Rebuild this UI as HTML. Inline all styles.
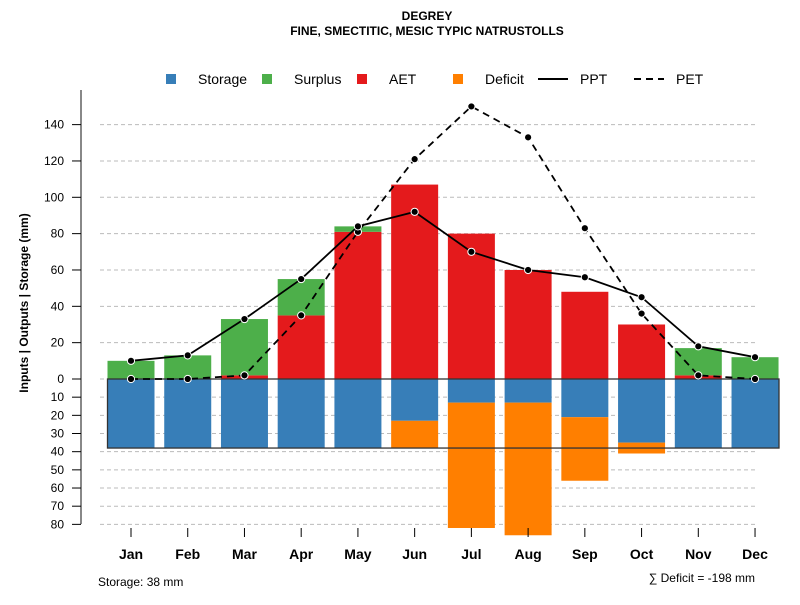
<!DOCTYPE html>
<html><head><meta charset="utf-8"><style>
body{margin:0;background:#fff;}
svg{font-family:"Liberation Sans",sans-serif;}
</style></head><body>
<svg id="c" width="800" height="600" xmlns="http://www.w3.org/2000/svg">
<text x="427" y="20" text-anchor="middle" font-size="12" font-weight="bold">DEGREY</text>
<text x="427" y="35" text-anchor="middle" font-size="12" font-weight="bold">FINE, SMECTITIC, MESIC TYPIC NATRUSTOLLS</text>
<g font-size="14">
<rect x="166" y="74" width="10" height="10" fill="#377eb8"/>
<text x="198" y="84">Storage</text>
<rect x="262" y="74" width="10" height="10" fill="#4daf4a"/>
<text x="294" y="84">Surplus</text>
<rect x="357" y="74" width="10" height="10" fill="#e41a1c"/>
<text x="389" y="84">AET</text>
<rect x="453" y="74" width="10" height="10" fill="#ff7f00"/>
<text x="485" y="84">Deficit</text>
<line x1="538" y1="79" x2="568" y2="79" stroke="#000" stroke-width="2"/>
<text x="580" y="84">PPT</text>
<line x1="634" y1="79" x2="664" y2="79" stroke="#000" stroke-width="2" stroke-dasharray="7,5"/>
<text x="676" y="84">PET</text>
</g>
<text transform="translate(28,303) rotate(-90)" text-anchor="middle" font-size="12" font-weight="bold">Inputs | Outputs | Storage    (mm)</text>
<text x="98" y="586" font-size="12">Storage: 38 mm</text>
<text x="755" y="582" text-anchor="end" font-size="12">∑ Deficit = -198 mm</text>
<g id="grid"></g><g id="bars"></g><g id="lines"></g><g id="axes"></g>
</svg>
<script>
const months=["Jan","Feb","Mar","Apr","May","Jun","Jul","Aug","Sep","Oct","Nov","Dec"];
const aet=[0,0,2,35,81,107,80,60,48,30,2,0];
const surplus=[10,13,31,20,3,0,0,0,0,0,15,12];
const storage=[38,38,38,38,38,23,13,13,21,35,38,38];
const deficit=[0,0,0,0,0,15,69,73,35,6,0,0];
const ppt=[10,13,33,55,84,92,70,60,56,45,18,12];
const pet=[0,0,2,35,81,121,150,133,83,36,2,0];
const upTicks=[0,20,40,60,80,100,120,140];
const downTicks=[10,20,30,40,50,60,70,80];
const storageCap=38;
const NS="http://www.w3.org/2000/svg";
const y0=379,k=1.817;
const yUp=v=>y0-v*k, yDn=v=>y0+v*k;
const xc=i=>131+i*56.73;
const bw=47;
function mk(tag,a,parent){const e=document.createElementNS(NS,tag);for(const key in a)e.setAttribute(key,a[key]);document.getElementById(parent).appendChild(e);return e;}
upTicks.forEach(t=>{const l=mk('line',{x1:100,x2:756,y1:yUp(t),y2:yUp(t),stroke:'#bbb','stroke-dasharray':'4,3'},'grid');

});
downTicks.forEach(t=>{const l=mk('line',{x1:100,x2:756,y1:yDn(t),y2:yDn(t),stroke:'#bbb','stroke-dasharray':'4,3'},'grid');

});
months.forEach((m,i)=>{
 const x=xc(i)-bw/2;
 let r=mk('rect',{x:x,y:yUp(aet[i]),width:bw,height:aet[i]*k,fill:'#e41a1c'},'bars');
 
 
 r=mk('rect',{x:x,y:yUp(aet[i]+surplus[i]),width:bw,height:surplus[i]*k,fill:'#4daf4a'},'bars');
 
 
 r=mk('rect',{x:x,y:y0,width:bw,height:storage[i]*k,fill:'#377eb8'},'bars');
 
 
 r=mk('rect',{x:x,y:yDn(storage[i]),width:bw,height:deficit[i]*k,fill:'#ff7f00'},'bars');
 
 
});
let fr=mk('rect',{x:xc(0)-bw/2,y:y0,width:779-(xc(0)-bw/2),height:storageCap*k,fill:'none',stroke:'#333','stroke-width':1.3},'bars');


function series(vals,dash,name){
 const p=mk('polyline',{points:vals.map((v,i)=>xc(i)+','+yUp(v)).join(' '),fill:'none',stroke:'#000','stroke-width':1.8,'stroke-dasharray':dash},'lines');
 
 
 vals.forEach((v,i)=>{const c=mk('circle',{cx:xc(i),cy:yUp(v),r:3.6,fill:'#000',stroke:'#fff','stroke-width':1},'lines');
 
 });
}
series(pet,'7,5','pet');
series(ppt,'none','ppt');
let ax=mk('line',{x1:81,x2:81,y1:90,y2:524,stroke:'#888','stroke-width':2},'axes');


function tick(y,label){
 const l=mk('line',{x1:72,x2:81,y1:y,y2:y,stroke:'#000'},'axes');
 
 
 const t=mk('text',{x:64,y:y+4,'text-anchor':'end','font-size':12},'axes');
 t.textContent=label;
 
 
}
upTicks.forEach(t=>tick(yUp(t),t));
downTicks.forEach(t=>tick(yDn(t),t));
months.forEach((m,i)=>{
 const l=mk('line',{x1:xc(i),x2:xc(i),y1:528,y2:537,stroke:'#000'},'axes');
 
 
 const t=mk('text',{x:xc(i),y:559,'text-anchor':'middle','font-size':14,'font-weight':'bold'},'axes');
 t.textContent=m;
 
 
});
</script>
</body></html>
